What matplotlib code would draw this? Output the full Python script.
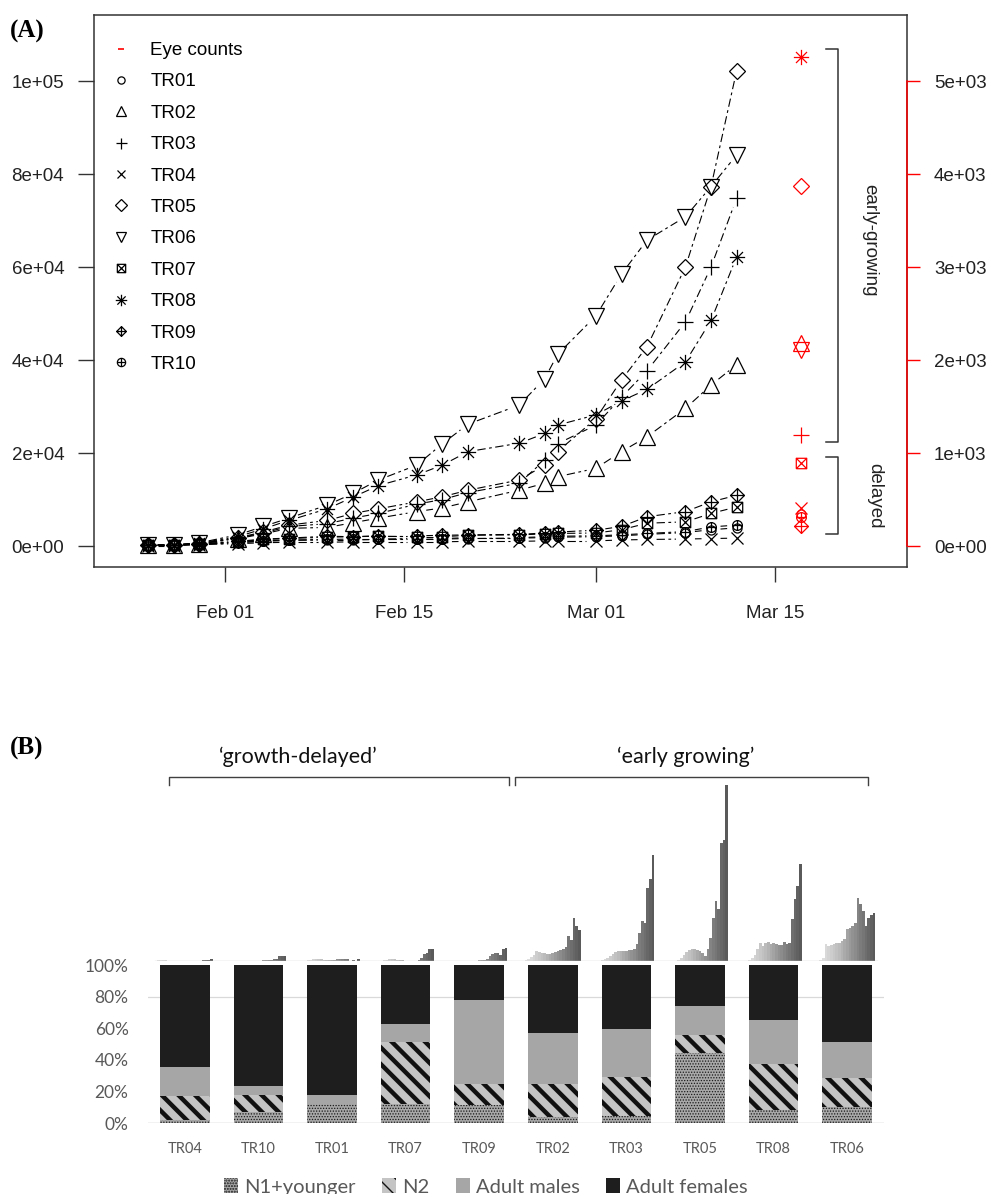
import numpy as np
import matplotlib
matplotlib.use("Agg")
import matplotlib.pyplot as plt
import matplotlib.dates as mdates
from matplotlib.path import Path
from matplotlib.lines import Line2D
from matplotlib.collections import LineCollection

plt.rcParams['font.family'] = ['Liberation Sans', 'DejaVu Sans']
plt.rcParams['lines.scale_dashes'] = False

# ---------------- Panel A data ----------------
sample_dates = ["2016-01-26", "2016-01-28", "2016-01-30", "2016-02-02", "2016-02-04",
                "2016-02-06", "2016-02-09", "2016-02-11", "2016-02-13", "2016-02-16",
                "2016-02-18", "2016-02-20", "2016-02-24", "2016-02-26", "2016-02-27",
                "2016-03-01", "2016-03-03", "2016-03-05", "2016-03-08", "2016-03-10",
                "2016-03-12"]
eye_date = "2016-03-17"
treatments = ["TR01", "TR02", "TR03", "TR04", "TR05", "TR06", "TR07", "TR08", "TR09", "TR10"]

TR01 = [100, 150, 350, 700, 1000, 1200, 1300, 1300, 1400, 1400, 1500, 1600, 1700, 1800, 1900, 2000, 2200, 2500, 2900, 3500, 3900]
TR02 = [150, 200, 450, 1600, 2600, 3800, 4000, 5000, 6000, 7400, 8200, 9500, 12000, 13500, 14900, 16700, 20300, 23500, 29600, 34600, 39000]
TR03 = [150, 200, 500, 1700, 2800, 4200, 4800, 6000, 7000, 9000, 10000, 11500, 13500, 18500, 22000, 26000, 32000, 37700, 48200, 60000, 74800]
TR04 = [100, 100, 300, 500, 700, 800, 800, 900, 900, 900, 900, 1000, 1000, 1100, 1100, 1100, 1300, 1400, 1500, 1600, 1700]
TR05 = [150, 200, 500, 1800, 3000, 4500, 5500, 7000, 8000, 9500, 10600, 12000, 14200, 17400, 20300, 27400, 35700, 42900, 60000, 77300, 102200]
TR06 = [200, 250, 700, 2400, 4200, 6000, 8800, 11300, 14200, 17400, 22000, 26200, 30300, 36000, 41200, 49500, 58500, 65800, 70800, 77300, 84100]
TR07 = [150, 200, 450, 900, 1400, 1600, 1900, 2000, 2100, 2000, 2000, 2300, 2400, 2600, 2700, 2800, 3500, 4900, 5200, 7000, 8400]
TR08 = [200, 250, 650, 2000, 3700, 5500, 8000, 10500, 13000, 15300, 17400, 20300, 22100, 24200, 26000, 28200, 31200, 33700, 39600, 48500, 62200]
TR09 = [200, 250, 500, 1000, 1500, 1700, 2100, 2000, 2200, 2200, 2300, 2400, 2500, 2800, 3000, 3400, 4200, 6300, 7400, 9500, 10900]
TR10 = [150, 150, 400, 800, 1100, 1300, 1400, 1500, 1500, 1600, 1600, 1800, 1800, 2000, 2100, 2200, 2400, 2700, 3100, 4100, 4500]
series = [TR01, TR02, TR03, TR04, TR05, TR06, TR07, TR08, TR09, TR10]

eye_counts = [345, 2180, 1190, 408, 3870, 2110, 896, 5260, 215, 315]

left_ticks = [0, 20000, 40000, 60000, 80000, 100000]
left_labels = ["0e+00", "2e+04", "4e+04", "6e+04", "8e+04", "1e+05"]
right_ticks = [0, 1000, 2000, 3000, 4000, 5000]
right_labels = ["0e+00", "1e+03", "2e+03", "3e+03", "4e+03", "5e+03"]
date_ticks = ["2016-02-01", "2016-02-15", "2016-03-01", "2016-03-15"]
date_labels = ["Feb 01", "Feb 15", "Mar 01", "Mar 15"]

# ---------------- Panel B data ----------------
stack_order = ["TR04", "TR10", "TR01", "TR07", "TR09", "TR02", "TR03", "TR05", "TR08", "TR06"]
n1_younger = [1.7, 7.0, 11.8, 11.8, 11.2, 3.8, 4.2, 44.4, 8.5, 10.1]
n2 = [15.4, 10.5, 0.0, 39.2, 13.3, 20.7, 25.0, 11.2, 28.7, 18.2]
adult_males = [18.4, 5.8, 5.7, 11.4, 53.3, 32.2, 30.0, 18.4, 28.3, 23.1]
adult_females = [64.5, 76.7, 82.5, 37.6, 22.2, 43.3, 40.8, 26.0, 34.5, 48.6]

mini_TR04 = [0.8, 1.0, 0.8, 0.6, 0.4, 0.3, 0.3, 0.2, 0.2, 0.2, 0.2, 0.2, 0.3, 0.3, 0.3, 0.3, 0.5, 0.8, 1.2, 1.5, 1.8]
mini_TR10 = [0.3, 0.3, 0.3, 0.3, 0.3, 0.3, 0.3, 0.3, 0.3, 0.4, 0.5, 0.5, 0.6, 0.8, 1.0, 1.3, 1.8, 2.5, 5.0, 5.2, 5.0]
mini_TR01 = [0.5, 1.0, 1.5, 2.0, 2.0, 2.0, 1.7, 1.5, 1.2, 1.2, 1.3, 1.5, 1.7, 1.7, 1.8, 1.8, 1.7, 0.2, 1.5, 0.2, 2.5]
mini_TR07 = [0.3, 0.5, 1.0, 1.5, 2.0, 2.0, 1.8, 1.5, 1.0, 0.7, 0.5, 0.5, 0.5, 0.3, 0.5, 1.0, 3.3, 6.7, 8.3, 11.7, 11.7]
mini_TR09 = [0.3, 0.5, 0.5, 0.5, 0.5, 0.3, 0.3, 0.3, 0.3, 0.5, 0.7, 1.0, 1.3, 2.0, 5.0, 7.5, 8.0, 8.0, 6.5, 12.0, 13.0]
mini_TR02 = [1.0, 2.0, 4.0, 6.0, 10.0, 9.0, 8.0, 8.0, 7.0, 7.0, 8.0, 9.0, 10.0, 11.0, 12.0, 14.0, 25.0, 21.0, 43.0, 35.0, 31.0]
mini_TR03 = [0.5, 1.0, 2.0, 3.0, 5.0, 7.0, 9.0, 10.0, 10.0, 10.0, 10.5, 11.0, 11.0, 12.0, 17.0, 28.0, 40.0, 38.0, 73.0, 82.0, 106.0]
mini_TR05 = [0.3, 0.5, 1.5, 3.0, 6.0, 9.0, 11.0, 12.0, 12.0, 11.0, 10.0, 8.0, 5.0, 12.0, 23.0, 43.0, 60.0, 52.0, 118.0, 121.0, 176.0]
mini_TR08 = [0.5, 1.0, 3.0, 6.0, 12.0, 18.0, 15.0, 18.0, 19.0, 17.0, 18.0, 17.0, 16.0, 16.0, 19.0, 17.0, 18.0, 42.0, 62.0, 75.0, 97.0]
mini_TR06 = [1.0, 3.0, 17.0, 15.0, 16.0, 17.0, 18.0, 18.0, 20.0, 22.0, 32.0, 33.0, 35.0, 38.0, 63.0, 57.0, 50.0, 35.0, 43.0, 46.0, 48.0]
mini_series = [mini_TR04, mini_TR10, mini_TR01, mini_TR07, mini_TR09,
               mini_TR02, mini_TR03, mini_TR05, mini_TR08, mini_TR06]

# ---------------- markers ----------------
M, L = Path.MOVETO, Path.LINETO
sq_x = Path([(-1, -1), (1, -1), (1, 1), (-1, 1), (-1, -1), (-1, -1), (1, 1), (-1, 1), (1, -1)],
            [M, L, L, L, L, M, L, M, L])
diamond_plus = Path([(0, -1), (1, 0), (0, 1), (-1, 0), (0, -1), (-1, 0), (1, 0), (0, -1), (0, 1)],
                    [M, L, L, L, L, M, L, M, L])
circle_plus = Path.make_compound_path(Path.unit_circle(),
                                      Path([(-1, 0), (1, 0), (0, -1), (0, 1)], [M, L, M, L]))
asterisk = Path([(-1, 0), (1, 0), (0, -1), (0, 1), (-.72, -.72), (.72, .72), (-.72, .72), (.72, -.72)],
                [M, L, M, L, M, L, M, L])
marker_defs = [("o", 6.5), ("^", 11), ("+", 11), ("x", 8.5), ("D", 7.8),
               ("v", 11), (sq_x, 7.5), (asterisk, 11), (diamond_plus, 10), (circle_plus, 7)]
legend_scale = [0.8, 0.62, 0.72, 0.75, 0.8, 0.62, 0.8, 0.75, 0.7, 0.85]

W, H = 993, 1194
def fx(px):
    return px / W
def fy(py):
    return 1 - py / H

fig = plt.figure(figsize=(9.93, 11.94), dpi=100)

# ================= Panel A =================
axA = fig.add_axes([fx(94), fy(567), fx(907) - fx(94), fy(15) - fy(567)])
feb1 = mdates.datestr2num("2016-02-01")
axA.set_xlim(feb1 - 10.24, feb1 + 53.32)
axA.set_ylim(-4516, 114194)
axR = axA.twinx()
axR.set_ylim(-4516 / 20, 114194 / 20)

xs = mdates.datestr2num(sample_dates)
x_eye = mdates.datestr2num(eye_date)

def gapped(ax, x, y, gap):
    pts = ax.transData.transform(np.column_stack([x, y]))
    inv = ax.transData.inverted()
    segs = []
    for p0, p1 in zip(pts[:-1], pts[1:]):
        d = p1 - p0
        ln = np.hypot(d[0], d[1])
        if ln <= 2 * gap + 2:
            continue
        u = d / ln
        segs.append(inv.transform(np.array([p0 + u * gap, p1 - u * gap])))
    return segs

for vals, (mk, ms) in zip(series, marker_defs):
    segs = gapped(axA, xs, vals, 9.5)
    axA.add_collection(LineCollection(segs, colors='k', linewidths=0.8,
                                      linestyles=[(0, (6, 2.5, 2, 2.5))]))
    axA.plot(xs, vals, ls='none', marker=mk, ms=ms, mfc='none', mec='k', mew=0.9)

for val, (mk, ms) in zip(eye_counts, marker_defs):
    axR.plot([x_eye], [val], ls='none', marker=mk, ms=ms, mfc='none', mec='red', mew=0.9)

for sp in axA.spines.values():
    sp.set_color('#333333')
    sp.set_linewidth(1.1)
axA.set_xticks(mdates.datestr2num(date_ticks))
axA.set_xticklabels(date_labels)
axA.set_yticks(left_ticks)
axA.set_yticklabels(left_labels)
axA.tick_params(axis='x', direction='out', length=11, width=1, pad=16, labelsize=13.5,
                color='#333333', labelcolor='#222222')
axA.tick_params(axis='y', direction='out', length=11.5, width=1, pad=10, labelsize=13.5,
                color='#333333', labelcolor='#222222')

for k in ['top', 'left', 'bottom']:
    axR.spines[k].set_visible(False)
axR.spines['right'].set_color('red')
axR.spines['right'].set_linewidth(1.1)
axR.spines['right'].set_bounds(0, 5000)
axR.set_yticks(right_ticks)
axR.set_yticklabels(right_labels)
axR.tick_params(axis='y', direction='out', length=9.5, width=1, pad=10, labelsize=13.5,
                color='red', labelcolor='#222222')

# brackets
bx_in, bx_out = feb1 + 46.99, feb1 + 47.92
axA.plot([bx_in, bx_out, bx_out, bx_in], [106880, 106880, 22430, 22430], color='#333333',
         lw=1.1, clip_on=False)
axA.plot([bx_in, bx_out, bx_out, bx_in], [19210, 19210, 2516, 2516], color='#333333',
         lw=1.1, clip_on=False)
axA.text(feb1 + 50.43, 65800, "early-growing", rotation=270, ha='center', va='center',
         fontsize=13.5, color='#222222')
axA.text(feb1 + 50.82, 10830, "delayed", rotation=270, ha='center', va='center',
         fontsize=13.5, color='#222222')

handles = [Line2D([], [], ls='none', marker='_', color='red', ms=5, mew=1.2)]
for (mk, ms), sc in zip(marker_defs, legend_scale):
    handles.append(Line2D([], [], ls='none', marker=mk, ms=ms * sc, mfc='none', mec='k', mew=0.9))
axA.legend(handles, ["Eye counts"] + treatments, loc='upper left',
           bbox_to_anchor=(fx(112), fy(42)), bbox_transform=fig.transFigure,
           frameon=False, borderpad=0, borderaxespad=0, handlelength=1.0,
           handletextpad=1.05, labelspacing=0.76, fontsize=13.5)

fig.text(fx(27), fy(31), "(A)", ha='center', va='center', fontsize=18, fontweight='bold',
         family=['Liberation Serif', 'DejaVu Serif'])

# ================= Panel B =================
bfont = ['Lato', 'DejaVu Sans']
gray_txt = '#595959'
axB = fig.add_axes([fx(148), fy(1123), fx(884) - fx(148), fy(965) - fy(1123)])
xb = np.arange(len(stack_order))
bw = 0.675
bot = np.zeros(len(stack_order))
b1 = axB.bar(xb, n1_younger, bw, bottom=bot, color='#a8a8a8', edgecolor='#1a1a1a', linewidth=0,
             hatch='......', zorder=2)
bot = bot + np.array(n1_younger)
b2 = axB.bar(xb, n2, bw, bottom=bot, color='#c4c4c4', edgecolor='#111111', linewidth=0,
             hatch='\\\\', zorder=2)
bot = bot + np.array(n2)
b3 = axB.bar(xb, adult_males, bw, bottom=bot, color='#a6a6a6', linewidth=0, zorder=2)
bot = bot + np.array(adult_males)
b4 = axB.bar(xb, adult_females, bw, bottom=bot, color='#1e1e1e', linewidth=0, zorder=2)
for p in b1.patches:
    if hasattr(p, 'set_hatch_linewidth'):
        p.set_hatch_linewidth(0.6)
for p in b2.patches:
    if hasattr(p, 'set_hatch_linewidth'):
        p.set_hatch_linewidth(3.2)

axB.set_xlim(-0.5, len(stack_order) - 0.5)
axB.set_ylim(0, 100)
axB.set_yticks([0, 20, 40, 60, 80, 100])
axB.set_yticklabels(["0%", "20%", "40%", "60%", "80%", "100%"])
axB.set_xticks(xb)
axB.set_xticklabels(stack_order)
for lab in axB.get_xticklabels() + axB.get_yticklabels():
    lab.set_family(bfont)
axB.tick_params(axis='x', length=0, pad=14, labelsize=10.5, labelcolor=gray_txt)
axB.tick_params(axis='y', length=0, pad=14, labelsize=12.5, labelcolor=gray_txt)
for sp in axB.spines.values():
    sp.set_visible(False)
axB.axhline(80, color='#d9d9d9', lw=0.9, zorder=0)
axB.axhline(0, color='#bfbfbf', lw=1, zorder=1)

legB = fig.legend([b1, b2, b3, b4], ["N1+younger", "N2", "Adult males", "Adult females"],
                  loc='center', bbox_to_anchor=(fx(486), fy(1187)), ncol=4, frameon=False,
                  handlelength=0.7, handleheight=0.7, handletextpad=0.3, columnspacing=1.3,
                  prop={'family': bfont, 'size': 14.5})
for t in legB.get_texts():
    t.set_color(gray_txt)

# mini time-series bars
axM = fig.add_axes([fx(148), fy(961), fx(884) - fx(148), 186 / H])
axM.set_xlim(-0.5, len(stack_order) - 0.5)
axM.set_ylim(0, 186)
axM.axis('off')
span = 0.76
for i, vals in enumerate(mini_series):
    n = len(vals)
    pos = i - span / 2 + (np.arange(n) + 0.5) * span / n
    cols = plt.cm.Greys(np.linspace(0.2, 0.72, n))
    axM.bar(pos, vals, span / n, color=cols, linewidth=0)
axM.axhline(0, xmin=0.01, xmax=0.99, color='#d0d0d0', lw=1)

# group brackets
axM.plot([-0.215, -0.215, 4.405, 4.405], [176, 184, 184, 176], color='#404040', lw=1, clip_on=False)
axM.plot([4.493, 4.493, 9.28, 9.28], [176, 184, 184, 176], color='#404040', lw=1, clip_on=False)
axM.text(1.54, 204, "\u2018growth-delayed\u2019", ha='center', va='center', fontsize=15.5,
         family=bfont, color='#111111', clip_on=False)
axM.text(6.8, 204, "\u2018early growing\u2019", ha='center', va='center', fontsize=15.5,
         family=bfont, color='#111111', clip_on=False)

fig.text(fx(27), fy(748), "(B)", ha='center', va='center', fontsize=18, fontweight='bold',
         family=['Liberation Serif', 'DejaVu Serif'])

fig.savefig("out.png", dpi=100)
